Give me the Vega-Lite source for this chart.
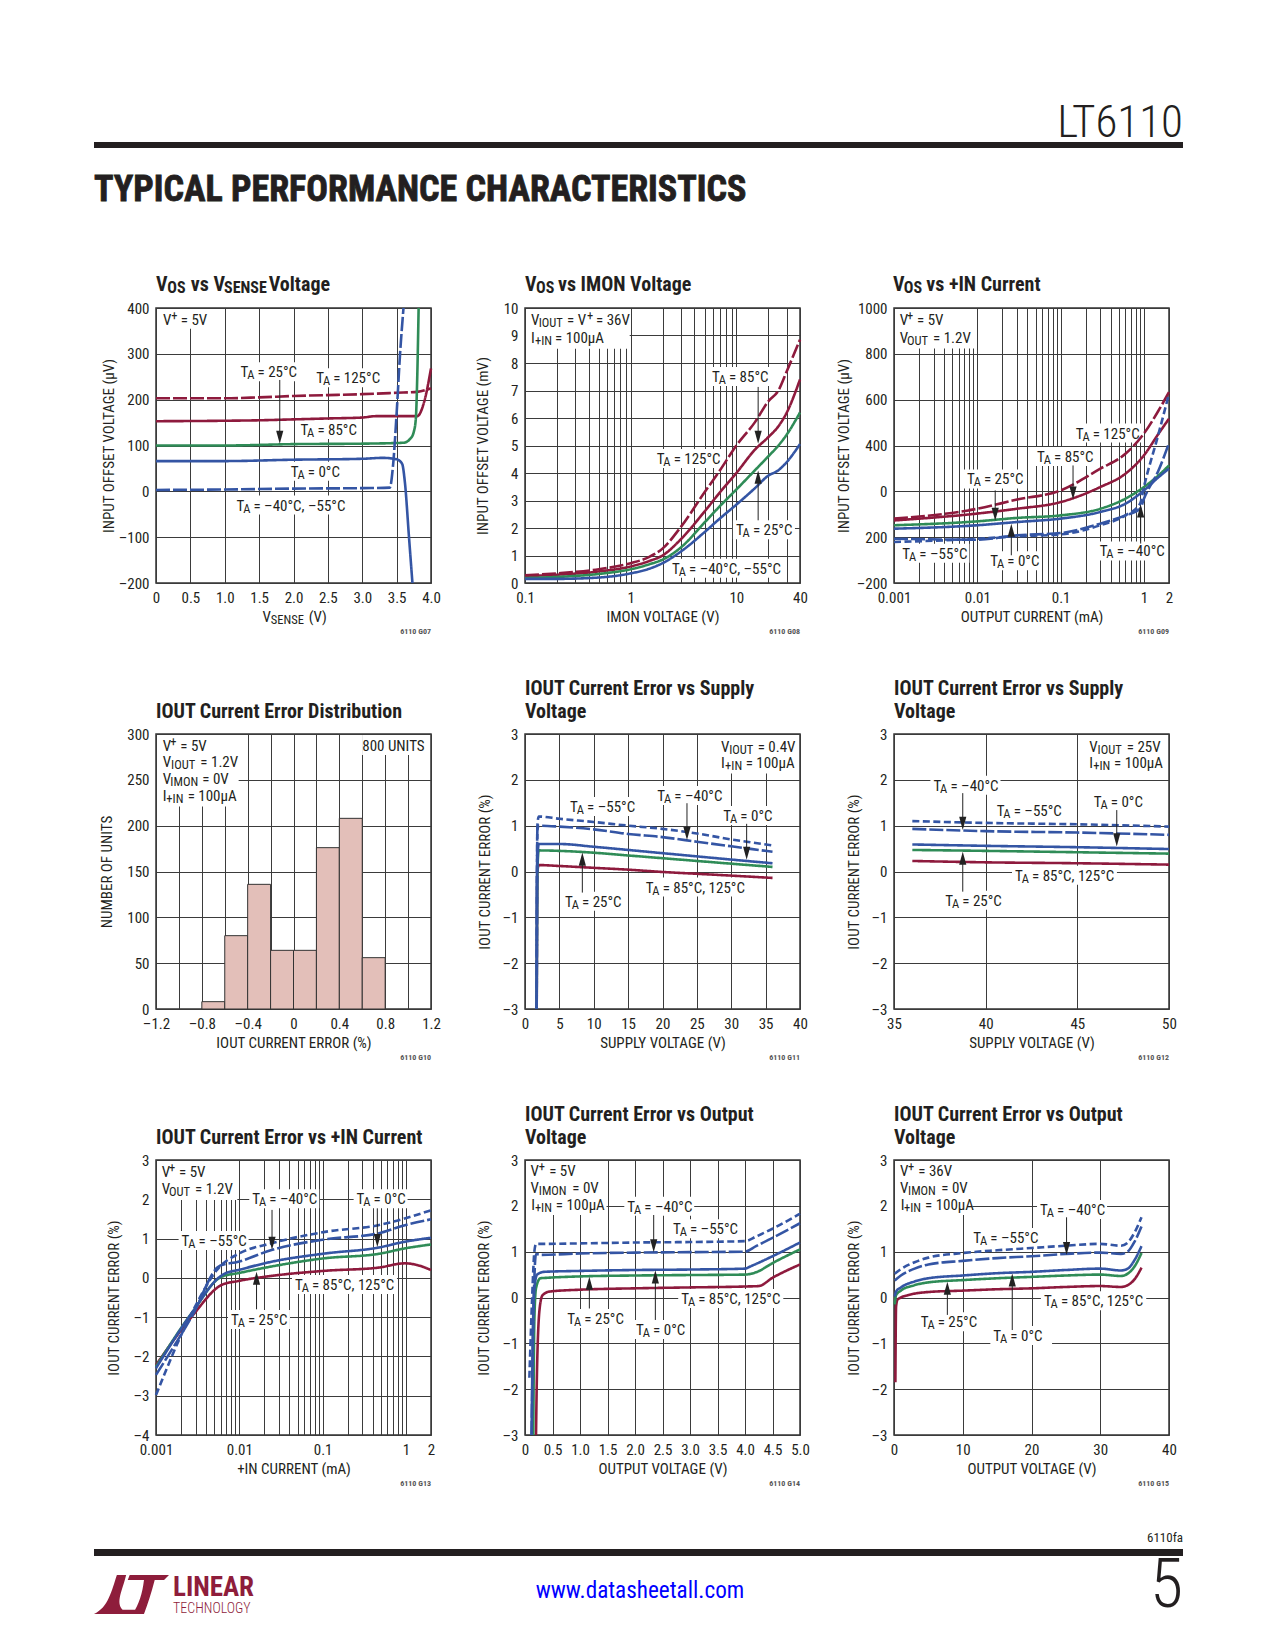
{"$schema":"https://vega.github.io/schema/vega-lite/v6.json","padding":0,"background":"white","bounds":"flush","align":"each","columns":4,"spacing":{"row":151,"column":94},
"config":{"view":{"stroke":null},"font":"Roboto Condensed, Open Sans Condensed, Noto Sans Condensed, Liberation Sans",
"axis":{"domain":false,"ticks":false,"grid":true,"gridColor":"#3b3b3b","gridWidth":1,"labelFont":"Roboto Condensed, Open Sans Condensed, Noto Sans Condensed, Liberation Sans","labelFontSize":15,"labelColor":"#231f20","labelPadding":7,"labelFlush":false,"titleFont":"Roboto Condensed, Open Sans Condensed, Noto Sans Condensed, Liberation Sans","titleFontSize":15,"titleFontWeight":"normal","titleColor":"#231f20","labelOverlap":false,"labelBound":false,"titleBaseline":"middle"},
"text":{"font":"Roboto Condensed, Open Sans Condensed, Noto Sans Condensed, Liberation Sans","fontSize":15,"align":"left","baseline":"middle","color":"#231f20"},
"title":{"font":"Roboto Condensed, Open Sans Condensed, Noto Sans Condensed, Liberation Sans","fontWeight":"bold","fontSize":20,"color":"#231f20","anchor":"start","frame":"group","offset":5.5,"lineHeight":23}},
"datasets":{
"p1t":[{"x":1.23,"x1":2.06,"y":260,"t":"= 25°C"},{"x":2.33,"x1":3.26,"y":247,"t":"= 125°C"},{"x":2.1,"x1":2.93,"y":134,"t":"= 85°C"},{"x":1.96,"x1":2.67,"y":43,"t":"= 0°C"},{"x":1.17,"x1":2.73,"y":-31,"t":"= –40°C, –55°C"}],
"p1p":[{"x":0.1,"y":373,"t":"V","k":"n"},{"x":0.22,"y":373,"t":"+","k":"p"},{"x":0.36,"y":373,"t":"= 5V","k":"n"},{"x":0,"y":450,"t":"V","k":"h"},{"x":0.165,"y":450,"t":"OS","k":"i"},{"x":0.505,"y":450,"t":"vs V","k":"h"},{"x":0.99,"y":450,"t":"SENSE","k":"i"},{"x":1.64,"y":450,"t":"Voltage","k":"h"},{"x":1.55,"y":-274,"t":"V","k":"n"},{"x":1.67,"y":-274,"t":"SENSE","k":"b"},{"x":2.22,"y":-274,"t":"(V)","k":"n"},{"x":4,"y":-200,"t":"6110 G07","k":"g"}],
"p1a":[{"x":1.8,"y":118,"y1":243,"d":"d"}],
"p1m":[{"x":0,"x1":0.9,"y":400,"y1":355}],
"p1l":[{"s":"125","x":0,"y":203},{"s":"125","x":1,"y":203},{"s":"125","x":1.5,"y":205},{"s":"125","x":2,"y":208},{"s":"125","x":2.5,"y":210},{"s":"125","x":3,"y":212},{"s":"125","x":3.5,"y":215},{"s":"125","x":3.8,"y":217},{"s":"125","x":4,"y":225},
{"s":"85","x":0,"y":153},{"s":"85","x":1,"y":154},{"s":"85","x":1.5,"y":155},{"s":"85","x":2,"y":157},{"s":"85","x":2.5,"y":159},{"s":"85","x":3,"y":161},{"s":"85","x":3.2,"y":164},{"s":"85","x":3.8,"y":164},{"s":"85","x":3.9,"y":195},{"s":"85","x":4,"y":268},
{"s":"25","x":0,"y":100},{"s":"25","x":1,"y":100},{"s":"25","x":2,"y":103},{"s":"25","x":3,"y":104},{"s":"25","x":3.6,"y":106},{"s":"25","x":3.7,"y":115},{"s":"25","x":3.75,"y":130},{"s":"25","x":3.78,"y":160},{"s":"25","x":3.8,"y":250},{"s":"25","x":3.82,"y":400},
{"s":"0","x":0,"y":66},{"s":"0","x":1,"y":66},{"s":"0","x":2,"y":69},{"s":"0","x":3,"y":71},{"s":"0","x":3.3,"y":73},{"s":"0","x":3.5,"y":70},{"s":"0","x":3.58,"y":60},{"s":"0","x":3.62,"y":20},{"s":"0","x":3.68,"y":-100},{"s":"0","x":3.73,"y":-200},
{"s":"-40","x":0,"y":3},{"s":"-40","x":1,"y":4},{"s":"-40","x":2,"y":6},{"s":"-40","x":3,"y":7},{"s":"-40","x":3.4,"y":8},{"s":"-40","x":3.45,"y":60},{"s":"-40","x":3.5,"y":170},{"s":"-40","x":3.55,"y":300},{"s":"-40","x":3.6,"y":400}],
"p2t":[{"x":5.88,"x1":20.3,"y":7.49,"t":"= 85°C"},{"x":1.76,"x1":7.1,"y":4.51,"t":"= 125°C"},{"x":9.9,"x1":34.3,"y":1.92,"t":"= 25°C"},{"x":2.46,"x1":25.3,"y":0.52,"t":"= –40°C, –55°C"}],
"p2p":[{"x":0.114,"y":9.55,"t":"V","k":"n"},{"x":0.1348,"y":9.55,"t":"IOUT","k":"b"},{"x":0.2498,"y":9.55,"t":"= V","k":"n"},{"x":0.386,"y":9.55,"t":"+","k":"p"},{"x":0.47,"y":9.55,"t":"= 36V","k":"n"},{"x":0.114,"y":8.92,"t":"I","k":"n"},{"x":0.1243,"y":8.92,"t":"+IN","k":"b"},{"x":0.1923,"y":8.92,"t":"= 100µA","k":"n"},{"x":0.1,"y":10.84,"t":"V","k":"h"},{"x":0.127,"y":10.84,"t":"OS","k":"i"},{"x":0.205,"y":10.84,"t":"vs IMON Voltage","k":"h"},{"x":40,"y":0,"t":"6110 G08","k":"g"}],
"p2a":[{"x":16.07,"y":5.3,"y1":7.13,"d":"d"},{"x":16.07,"y":3.85,"y1":2.28,"d":"u"}],
"p2m":[{"x":0.1,"x1":1,"y":10,"y1":8.52}],
"p2l":[{"s":"125","x":0.1,"y":0.28},{"s":"125","x":0.2,"y":0.35},{"s":"125","x":0.5,"y":0.5},{"s":"125","x":1,"y":0.72},{"s":"125","x":1.5,"y":0.95},{"s":"125","x":2,"y":1.25},{"s":"125","x":3,"y":2.05},{"s":"125","x":5,"y":3.3},{"s":"125","x":7,"y":4.1},{"s":"125","x":10,"y":5},{"s":"125","x":15,"y":5.85},{"s":"125","x":20,"y":6.6},{"s":"125","x":25,"y":7},{"s":"125","x":30,"y":7.7},{"s":"125","x":40,"y":8.85},
{"s":"85","x":0.1,"y":0.25},{"s":"85","x":0.2,"y":0.3},{"s":"85","x":0.5,"y":0.42},{"s":"85","x":1,"y":0.6},{"s":"85","x":1.5,"y":0.8},{"s":"85","x":2,"y":1},{"s":"85","x":3,"y":1.6},{"s":"85","x":5,"y":2.6},{"s":"85","x":7,"y":3.3},{"s":"85","x":10,"y":4},{"s":"85","x":15,"y":4.85},{"s":"85","x":20,"y":5.3},{"s":"85","x":25,"y":5.7},{"s":"85","x":30,"y":6.2},{"s":"85","x":40,"y":7.4},
{"s":"25","x":0.1,"y":0.18},{"s":"25","x":0.2,"y":0.22},{"s":"25","x":0.5,"y":0.33},{"s":"25","x":1,"y":0.5},{"s":"25","x":1.5,"y":0.68},{"s":"25","x":2,"y":0.85},{"s":"25","x":3,"y":1.3},{"s":"25","x":5,"y":2.2},{"s":"25","x":7,"y":2.8},{"s":"25","x":10,"y":3.4},{"s":"25","x":15,"y":4.1},{"s":"25","x":20,"y":4.6},{"s":"25","x":25,"y":5},{"s":"25","x":30,"y":5.4},{"s":"25","x":40,"y":6.2},
{"s":"0","x":0.1,"y":0.15},{"s":"0","x":0.2,"y":0.15},{"s":"0","x":0.5,"y":0.2},{"s":"0","x":1,"y":0.35},{"s":"0","x":1.5,"y":0.52},{"s":"0","x":2,"y":0.72},{"s":"0","x":3,"y":1.15},{"s":"0","x":5,"y":1.85},{"s":"0","x":7,"y":2.35},{"s":"0","x":10,"y":2.85},{"s":"0","x":15,"y":3.45},{"s":"0","x":20,"y":3.9},{"s":"0","x":25,"y":4.1},{"s":"0","x":30,"y":4.4},{"s":"0","x":40,"y":5.05}],
"p3t":[{"x":0.1518,"x1":0.891,"y":452,"t":"= 125°C"},{"x":0.0521,"x1":0.2516,"y":350,"t":"= 85°C"},{"x":0.00752,"x1":0.0363,"y":252,"t":"= 25°C"},{"x":0.00126,"x1":0.0076,"y":-72,"t":"= –55°C"},{"x":0.0143,"x1":0.0553,"y":-105,"t":"= 0°C"},{"x":0.294,"x1":1.77,"y":-62,"t":"= –40°C"}],
"p3p":[{"x":0.00117,"y":946,"t":"V","k":"n"},{"x":0.00143,"y":946,"t":"+","k":"p"},{"x":0.00189,"y":946,"t":"= 5V","k":"n"},{"x":0.00117,"y":870,"t":"V","k":"n"},{"x":0.00143,"y":870,"t":"OUT","k":"b"},{"x":0.00294,"y":870,"t":"= 1.2V","k":"n"},{"x":0.00097,"y":1100,"t":"V","k":"h"},{"x":0.00131,"y":1100,"t":"OS","k":"i"},{"x":0.00244,"y":1100,"t":"vs +IN Current","k":"h"},{"x":2,"y":-200,"t":"6110 G09","k":"g"}],
"p3a":[{"x":0.141,"y":193,"y1":313,"d":"d"},{"x":0.0164,"y":100,"y1":204,"d":"d"},{"x":0.0256,"y":30,"y1":-79,"d":"u"},{"x":0.914,"y":114,"y1":-28,"d":"u"}],
"p3m":[{"x":0.001,"x1":0.0097,"y":1000,"y1":823}],
"p3l":[{"s":"125","x":0.001,"y":81},{"s":"125","x":0.01,"y":124},{"s":"125","x":0.03,"y":164},{"s":"125","x":0.1,"y":204},{"s":"125","x":0.3,"y":299},{"s":"125","x":0.6,"y":364},{"s":"125","x":1,"y":452},{"s":"125","x":1.5,"y":553},{"s":"125","x":2,"y":633},
{"s":"85","x":0.001,"y":73},{"s":"85","x":0.01,"y":103},{"s":"85","x":0.03,"y":124},{"s":"85","x":0.1,"y":153},{"s":"85","x":0.3,"y":219},{"s":"85","x":0.6,"y":277},{"s":"85","x":1,"y":357},{"s":"85","x":1.5,"y":452},{"s":"85","x":2,"y":517},
{"s":"25","x":0.001,"y":52},{"s":"25","x":0.01,"y":69},{"s":"25","x":0.03,"y":84},{"s":"25","x":0.1,"y":95},{"s":"25","x":0.3,"y":124},{"s":"25","x":0.6,"y":168},{"s":"25","x":1,"y":219},{"s":"25","x":1.5,"y":270},{"s":"25","x":2,"y":313},
{"s":"0","x":0.001,"y":37},{"s":"0","x":0.01,"y":52},{"s":"0","x":0.03,"y":66},{"s":"0","x":0.1,"y":81},{"s":"0","x":0.3,"y":110},{"s":"0","x":0.6,"y":146},{"s":"0","x":1,"y":204},{"s":"0","x":1.5,"y":262},{"s":"0","x":2,"y":299},
{"s":"-40","x":0.001,"y":-7},{"s":"-40","x":0.01,"y":-11},{"s":"-40","x":0.03,"y":8},{"s":"-40","x":0.1,"y":18},{"s":"-40","x":0.3,"y":59},{"s":"-40","x":0.6,"y":95},{"s":"-40","x":0.9,"y":124},{"s":"-40","x":1,"y":168},{"s":"-40","x":1.5,"y":292},{"s":"-40","x":2,"y":411},
{"s":"-55","x":0.001,"y":-21},{"s":"-55","x":0.01,"y":-7},{"s":"-55","x":0.03,"y":4},{"s":"-55","x":0.1,"y":12},{"s":"-55","x":0.3,"y":52},{"s":"-55","x":0.6,"y":95},{"s":"-55","x":0.9,"y":146},{"s":"-55","x":1,"y":219},{"s":"-55","x":1.5,"y":452},{"s":"-55","x":2,"y":626}],
"p4b":[{"x":-0.8,"x1":-0.6,"y":8,"y0":0},{"x":-0.6,"x1":-0.4,"y":80,"y0":0},{"x":-0.4,"x1":-0.2,"y":136,"y0":0},{"x":-0.2,"x1":0,"y":64,"y0":0},{"x":0,"x1":0.2,"y":64,"y0":0},{"x":0.2,"x1":0.4,"y":176,"y0":0},{"x":0.4,"x1":0.6,"y":208,"y0":0},{"x":0.6,"x1":0.8,"y":56,"y0":0}],
"p4p":[{"x":-1.142,"y":287,"t":"V","k":"n"},{"x":-1.075,"y":287,"t":"+","k":"p"},{"x":-0.988,"y":287,"t":"= 5V","k":"n"},{"x":-1.142,"y":269,"t":"V","k":"n"},{"x":-1.069,"y":269,"t":"IOUT","k":"b"},{"x":-0.813,"y":269,"t":"= 1.2V","k":"n"},{"x":-1.142,"y":251,"t":"V","k":"n"},{"x":-1.075,"y":251,"t":"IMON","k":"b"},{"x":-0.796,"y":251,"t":"= 0V","k":"n"},{"x":-1.142,"y":232,"t":"I","k":"n"},{"x":-1.11,"y":232,"t":"+IN","k":"b"},{"x":-0.924,"y":232,"t":"= 100µA","k":"n"},{"x":0.6,"y":287,"t":"800 UNITS","k":"n"},{"x":1.2,"y":0,"t":"6110 G10","k":"g"}],
"p4m":[{"x":-1.2,"x1":-0.47,"y":300,"y1":221},{"x":0.59,"x1":1.2,"y":300,"y1":277}],
"p5t":[{"x":6.55,"x1":16,"y":1.41,"t":"= –55°C"},{"x":19.25,"x1":28.7,"y":1.65,"t":"= –40°C"},{"x":28.85,"x1":36,"y":1.21,"t":"= 0°C"},{"x":5.82,"x1":14.1,"y":-0.66,"t":"= 25°C"},{"x":17.55,"x1":32.1,"y":-0.35,"t":"= 85°C, 125°C"}],
"p5p":[{"x":28.5,"y":2.71,"t":"V","k":"n"},{"x":29.7,"y":2.71,"t":"IOUT","k":"b"},{"x":33.85,"y":2.71,"t":"= 0.4V","k":"n"},{"x":28.5,"y":2.36,"t":"I","k":"n"},{"x":29.1,"y":2.36,"t":"+IN","k":"b"},{"x":32.1,"y":2.36,"t":"= 100µA","k":"n"},{"x":40,"y":-3,"t":"6110 G11","k":"g"}],
"p5a":[{"x":23.56,"y":0.83,"y1":1.49,"d":"d"},{"x":32.24,"y":0.4,"y1":1.04,"d":"d"},{"x":8.34,"y":0.27,"y1":-0.46,"d":"u"}],
"p5m":[{"x":27.5,"x1":40,"y":3,"y1":2.14}],
"p5l":[{"s":"85","x":1.7,"y":-3},{"s":"85","x":1.8,"y":0},{"s":"85","x":2,"y":0.14},{"s":"85","x":5,"y":0.12},{"s":"85","x":10,"y":0.08},{"s":"85","x":15,"y":0.04},{"s":"85","x":20,"y":-0.01},{"s":"85","x":25,"y":-0.05},{"s":"85","x":30,"y":-0.09},{"s":"85","x":36,"y":-0.14},
{"s":"25","x":1.7,"y":-3},{"s":"25","x":1.8,"y":0},{"s":"25","x":2,"y":0.46},{"s":"25","x":5,"y":0.45},{"s":"25","x":10,"y":0.41},{"s":"25","x":15,"y":0.35},{"s":"25","x":20,"y":0.29},{"s":"25","x":25,"y":0.23},{"s":"25","x":30,"y":0.17},{"s":"25","x":36,"y":0.1},
{"s":"0","x":1.7,"y":-3},{"s":"0","x":1.75,"y":0},{"s":"0","x":2,"y":0.6},{"s":"0","x":5,"y":0.6},{"s":"0","x":10,"y":0.54},{"s":"0","x":15,"y":0.47},{"s":"0","x":20,"y":0.4},{"s":"0","x":25,"y":0.33},{"s":"0","x":30,"y":0.26},{"s":"0","x":36,"y":0.18},
{"s":"-40","x":1.7,"y":-3},{"s":"-40","x":1.8,"y":0.9},{"s":"-40","x":2,"y":1},{"s":"-40","x":5,"y":0.98},{"s":"-40","x":10,"y":0.92},{"s":"-40","x":15,"y":0.82},{"s":"-40","x":20,"y":0.75},{"s":"-40","x":25,"y":0.65},{"s":"-40","x":30,"y":0.55},{"s":"-40","x":36,"y":0.43},
{"s":"-55","x":1.7,"y":-3},{"s":"-55","x":1.75,"y":0},{"s":"-55","x":1.8,"y":1},{"s":"-55","x":2,"y":1.2},{"s":"-55","x":5,"y":1.15},{"s":"-55","x":10,"y":1.08},{"s":"-55","x":15,"y":1},{"s":"-55","x":20,"y":0.93},{"s":"-55","x":25,"y":0.83},{"s":"-55","x":30,"y":0.7},{"s":"-55","x":36,"y":0.57}],
"p6t":[{"x":37.15,"x1":40.7,"y":1.87,"t":"= –40°C"},{"x":40.6,"x1":44.15,"y":1.32,"t":"= –55°C"},{"x":45.9,"x1":48.57,"y":1.52,"t":"= 0°C"},{"x":37.8,"x1":40.9,"y":-0.64,"t":"= 25°C"},{"x":41.6,"x1":47.05,"y":-0.09,"t":"= 85°C, 125°C"}],
"p6p":[{"x":45.65,"y":2.71,"t":"V","k":"n"},{"x":46.1,"y":2.71,"t":"IOUT","k":"b"},{"x":47.7,"y":2.71,"t":"= 25V","k":"n"},{"x":45.65,"y":2.36,"t":"I","k":"n"},{"x":45.87,"y":2.36,"t":"+IN","k":"b"},{"x":47,"y":2.36,"t":"= 100µA","k":"n"},{"x":50,"y":-3,"t":"6110 G12","k":"g"}],
"p6a":[{"x":38.75,"y":1.05,"y1":1.71,"d":"d"},{"x":47.15,"y":0.69,"y1":1.34,"d":"d"},{"x":38.75,"y":0.29,"y1":-0.44,"d":"u"}],
"p6m":[{"x":45.3,"x1":50,"y":3,"y1":2.14}],
"p6l":[{"s":"85","x":36,"y":0.23},{"s":"85","x":40,"y":0.2},{"s":"85","x":45,"y":0.18},{"s":"85","x":50,"y":0.15},{"s":"25","x":36,"y":0.47},{"s":"25","x":40,"y":0.45},{"s":"25","x":45,"y":0.42},{"s":"25","x":50,"y":0.39},{"s":"0","x":36,"y":0.59},{"s":"0","x":40,"y":0.56},{"s":"0","x":45,"y":0.53},{"s":"0","x":50,"y":0.49},{"s":"-40","x":36,"y":0.93},{"s":"-40","x":40,"y":0.88},{"s":"-40","x":45,"y":0.85},{"s":"-40","x":50,"y":0.8},{"s":"-55","x":36,"y":1.1},{"s":"-55","x":40,"y":1.06},{"s":"-55","x":45,"y":1.03},{"s":"-55","x":50,"y":0.98}],
"p7t":[{"x":0.0143,"x1":0.0862,"y":2,"t":"= –40°C"},{"x":0.256,"x1":0.99,"y":2,"t":"= 0°C"},{"x":0.00203,"x1":0.01224,"y":0.94,"t":"= –55°C"},{"x":0.0466,"x1":0.7386,"y":-0.18,"t":"= 85°C, 125°C"},{"x":0.00794,"x1":0.03835,"y":-1.07,"t":"= 25°C"}],
"p7p":[{"x":0.00117,"y":2.69,"t":"V","k":"n"},{"x":0.00143,"y":2.69,"t":"+","k":"p"},{"x":0.00189,"y":2.69,"t":"= 5V","k":"n"},{"x":0.00117,"y":2.25,"t":"V","k":"n"},{"x":0.00143,"y":2.25,"t":"OUT","k":"b"},{"x":0.00294,"y":2.25,"t":"= 1.2V","k":"n"},{"x":2,"y":-4,"t":"6110 G13","k":"g"}],
"p7a":[{"x":0.0247,"y":0.88,"y1":1.73,"d":"d"},{"x":0.4536,"y":0.95,"y1":1.77,"d":"d"},{"x":0.0161,"y":-0.01,"y1":-0.8,"d":"u"}],
"p7m":[{"x":0.001,"x1":0.00973,"y":3,"y1":1.98}],
"p7l":[{"s":"85","x":0.001,"y":-2.22},{"s":"85","x":0.00268,"y":-0.99},{"s":"85","x":0.00614,"y":-0.18},{"s":"85","x":0.00973,"y":-0.08},{"s":"85","x":0.0244,"y":0.05},{"s":"85","x":0.1067,"y":0.18},{"s":"85","x":0.4656,"y":0.26},{"s":"85","x":0.9727,"y":0.37},{"s":"85","x":1.343,"y":0.33},{"s":"85","x":2,"y":0.2},
{"s":"25","x":0.001,"y":-2.26},{"s":"25","x":0.00268,"y":-0.9},{"s":"25","x":0.00614,"y":0.03},{"s":"25","x":0.00973,"y":0.12},{"s":"25","x":0.0244,"y":0.29},{"s":"25","x":0.1067,"y":0.5},{"s":"25","x":0.4656,"y":0.61},{"s":"25","x":0.9727,"y":0.75},{"s":"25","x":2,"y":0.85},
{"s":"0","x":0.001,"y":-2.3},{"s":"0","x":0.00268,"y":-0.9},{"s":"0","x":0.00586,"y":0.03},{"s":"0","x":0.00673,"y":0.11},{"s":"0","x":0.00973,"y":0.2},{"s":"0","x":0.0244,"y":0.41},{"s":"0","x":0.1067,"y":0.62},{"s":"0","x":0.4656,"y":0.77},{"s":"0","x":0.9727,"y":0.92},{"s":"0","x":2,"y":1.02},
{"s":"-40","x":0.001,"y":-2.47},{"s":"-40","x":0.00268,"y":-0.99},{"s":"-40","x":0.00586,"y":0.31},{"s":"-40","x":0.00973,"y":0.41},{"s":"-40","x":0.0244,"y":0.71},{"s":"-40","x":0.1067,"y":0.98},{"s":"-40","x":0.4656,"y":1.13},{"s":"-40","x":0.9727,"y":1.34},{"s":"-40","x":2,"y":1.49},
{"s":"-55","x":0.001,"y":-2.98},{"s":"-55","x":0.00268,"y":-0.9},{"s":"-55","x":0.00586,"y":0.29},{"s":"-55","x":0.00973,"y":0.61},{"s":"-55","x":0.0244,"y":0.88},{"s":"-55","x":0.1067,"y":1.17},{"s":"-55","x":0.4656,"y":1.34},{"s":"-55","x":2,"y":1.72}],
"p8t":[{"x":1.86,"x1":3.04,"y":1.98,"t":"= –40°C"},{"x":2.69,"x1":3.87,"y":1.49,"t":"= –55°C"},{"x":2.84,"x1":4.66,"y":-0.03,"t":"= 85°C, 125°C"},{"x":0.77,"x1":1.81,"y":-0.47,"t":"= 25°C"},{"x":2.02,"x1":2.91,"y":-0.71,"t":"= 0°C"}],
"p8p":[{"x":0.1,"y":2.75,"t":"V","k":"n"},{"x":0.25,"y":2.75,"t":"+","k":"p"},{"x":0.44,"y":2.75,"t":"= 5V","k":"n"},{"x":0.1,"y":2.38,"t":"V","k":"n"},{"x":0.25,"y":2.38,"t":"IMON","k":"b"},{"x":0.86,"y":2.38,"t":"= 0V","k":"n"},{"x":0.115,"y":2.01,"t":"I","k":"n"},{"x":0.18,"y":2.01,"t":"+IN","k":"b"},{"x":0.56,"y":2.01,"t":"= 100µA","k":"n"},{"x":5,"y":-3,"t":"6110 G14","k":"g"}],
"p8a":[{"x":2.34,"y":1.13,"y1":1.8,"d":"d"},{"x":1.17,"y":0.31,"y1":-0.24,"d":"u"},{"x":2.37,"y":0.45,"y1":-0.49,"d":"u"}],
"p8m":[{"x":0,"x1":1.5,"y":3,"y1":1.8}],
"p8l":[{"s":"85","x":0.2,"y":-3},{"s":"85","x":0.22,"y":-1.5},{"s":"85","x":0.27,"y":-0.2},{"s":"85","x":0.32,"y":0.05},{"s":"85","x":0.45,"y":0.13},{"s":"85","x":1,"y":0.17},{"s":"85","x":2,"y":0.2},{"s":"85","x":3,"y":0.22},{"s":"85","x":4,"y":0.24},{"s":"85","x":4.25,"y":0.25},{"s":"85","x":4.5,"y":0.43},{"s":"85","x":5,"y":0.72},
{"s":"25","x":0.15,"y":-3},{"s":"25","x":0.17,"y":-0.5},{"s":"25","x":0.2,"y":0.2},{"s":"25","x":0.28,"y":0.42},{"s":"25","x":0.4,"y":0.43},{"s":"25","x":1,"y":0.46},{"s":"25","x":2,"y":0.48},{"s":"25","x":3,"y":0.49},{"s":"25","x":4,"y":0.5},{"s":"25","x":4.2,"y":0.55},{"s":"25","x":4.5,"y":0.75},{"s":"25","x":5,"y":1.05},
{"s":"0","x":0.12,"y":-3},{"s":"0","x":0.14,"y":-1},{"s":"0","x":0.17,"y":0.2},{"s":"0","x":0.22,"y":0.5},{"s":"0","x":0.35,"y":0.56},{"s":"0","x":1,"y":0.58},{"s":"0","x":2,"y":0.6},{"s":"0","x":3,"y":0.61},{"s":"0","x":4,"y":0.63},{"s":"0","x":4.1,"y":0.68},{"s":"0","x":4.5,"y":0.9},{"s":"0","x":5,"y":1.2},
{"s":"-40","x":0.12,"y":-3},{"s":"-40","x":0.16,"y":0},{"s":"-40","x":0.2,"y":0.95},{"s":"-40","x":0.3,"y":0.93},{"s":"-40","x":1,"y":0.96},{"s":"-40","x":2,"y":0.98},{"s":"-40","x":3,"y":0.99},{"s":"-40","x":4,"y":1},{"s":"-40","x":4.2,"y":1.12},{"s":"-40","x":4.5,"y":1.3},{"s":"-40","x":5,"y":1.62},
{"s":"-55","x":0.08,"y":-1.75},{"s":"-55","x":0.13,"y":0},{"s":"-55","x":0.17,"y":1},{"s":"-55","x":0.2,"y":1.17},{"s":"-55","x":0.3,"y":1.17},{"s":"-55","x":1,"y":1.18},{"s":"-55","x":2,"y":1.2},{"s":"-55","x":3,"y":1.21},{"s":"-55","x":4,"y":1.23},{"s":"-55","x":4.2,"y":1.33},{"s":"-55","x":4.5,"y":1.5},{"s":"-55","x":5,"y":1.83}],
"p9t":[{"x":21.24,"x1":30.7,"y":1.91,"t":"= –40°C"},{"x":11.54,"x1":21,"y":1.3,"t":"= –55°C"},{"x":21.8,"x1":36.4,"y":-0.08,"t":"= 85°C, 125°C"},{"x":3.88,"x1":12.2,"y":-0.54,"t":"= 25°C"},{"x":14.45,"x1":22.7,"y":-0.84,"t":"= 0°C"}],
"p9p":[{"x":0.87,"y":2.75,"t":"V","k":"n"},{"x":2.04,"y":2.75,"t":"+","k":"p"},{"x":3.54,"y":2.75,"t":"= 36V","k":"n"},{"x":0.87,"y":2.38,"t":"V","k":"n"},{"x":2.04,"y":2.38,"t":"IMON","k":"b"},{"x":6.88,"y":2.38,"t":"= 0V","k":"n"},{"x":0.97,"y":2.01,"t":"I","k":"n"},{"x":1.45,"y":2.01,"t":"+IN","k":"b"},{"x":4.51,"y":2.01,"t":"= 100µA","k":"n"},{"x":40,"y":-3,"t":"6110 G15","k":"g"}],
"p9a":[{"x":25.1,"y":1.07,"y1":1.75,"d":"d"},{"x":7.76,"y":0.2,"y1":-0.38,"d":"u"},{"x":17.2,"y":0.38,"y1":-0.71,"d":"u"}],
"p9m":[{"x":0,"x1":11.54,"y":3,"y1":1.8}],
"p9l":[{"s":"85","x":0.2,"y":-1.85},{"s":"85","x":0.3,"y":-0.2},{"s":"85","x":0.5,"y":-0.05},{"s":"85","x":1,"y":0},{"s":"85","x":2,"y":0.05},{"s":"85","x":5,"y":0.12},{"s":"85","x":10,"y":0.15},{"s":"85","x":15,"y":0.18},{"s":"85","x":20,"y":0.2},{"s":"85","x":25,"y":0.23},{"s":"85","x":30,"y":0.25},{"s":"85","x":33,"y":0.23},{"s":"85","x":34,"y":0.27},{"s":"85","x":35,"y":0.4},{"s":"85","x":36,"y":0.65},
{"s":"25","x":0.1,"y":-0.15},{"s":"25","x":0.3,"y":0.05},{"s":"25","x":1,"y":0.15},{"s":"25","x":3,"y":0.27},{"s":"25","x":5,"y":0.33},{"s":"25","x":10,"y":0.38},{"s":"25","x":15,"y":0.42},{"s":"25","x":20,"y":0.45},{"s":"25","x":25,"y":0.48},{"s":"25","x":30,"y":0.5},{"s":"25","x":33,"y":0.47},{"s":"25","x":34,"y":0.52},{"s":"25","x":35,"y":0.68},{"s":"25","x":36,"y":0.97},
{"s":"0","x":0.1,"y":0.02},{"s":"0","x":0.3,"y":0.13},{"s":"0","x":1,"y":0.22},{"s":"0","x":3,"y":0.35},{"s":"0","x":5,"y":0.42},{"s":"0","x":10,"y":0.48},{"s":"0","x":15,"y":0.53},{"s":"0","x":20,"y":0.56},{"s":"0","x":25,"y":0.6},{"s":"0","x":30,"y":0.63},{"s":"0","x":33,"y":0.59},{"s":"0","x":34,"y":0.63},{"s":"0","x":35,"y":0.82},{"s":"0","x":36,"y":1.12},
{"s":"-40","x":0.1,"y":0.37},{"s":"-40","x":1,"y":0.48},{"s":"-40","x":3,"y":0.63},{"s":"-40","x":5,"y":0.72},{"s":"-40","x":10,"y":0.8},{"s":"-40","x":15,"y":0.86},{"s":"-40","x":20,"y":0.9},{"s":"-40","x":25,"y":0.95},{"s":"-40","x":30,"y":0.98},{"s":"-40","x":33,"y":0.95},{"s":"-40","x":34,"y":1},{"s":"-40","x":35,"y":1.22},{"s":"-40","x":36,"y":1.55},
{"s":"-55","x":0.1,"y":0.52},{"s":"-55","x":1,"y":0.62},{"s":"-55","x":3,"y":0.77},{"s":"-55","x":5,"y":0.87},{"s":"-55","x":10,"y":0.97},{"s":"-55","x":15,"y":1.03},{"s":"-55","x":20,"y":1.08},{"s":"-55","x":25,"y":1.13},{"s":"-55","x":30,"y":1.17},{"s":"-55","x":33,"y":1.13},{"s":"-55","x":34,"y":1.2},{"s":"-55","x":35,"y":1.42},{"s":"-55","x":36,"y":1.75}]
},
"concat":[
{"width":61,"height":156,"encoding":{"x":{"field":"x","type":"quantitative","scale":{"domain":[0,61],"nice":false},"axis":null},"y":{"field":"y","type":"quantitative","scale":{"domain":[156,0],"nice":false},"axis":null}},
"layer":[
{"data":{"values":[{"x":93,"x1":1182,"y":141,"y1":147}]},"mark":{"type":"rect","fill":"#231f20"},"encoding":{"x2":{"field":"x1"},"y2":{"field":"y1"}}},
{"data":{"values":[{"x":1182,"y":122,"t":"LT6110"}]},"mark":{"type":"text","align":"right","fontSize":45,"fontWeight":300},"encoding":{"text":{"field":"t"}}},
{"data":{"values":[{"x":93,"y":189,"t":"TYPICAL PERFORMANCE CHARACTERISTICS"}]},"mark":{"type":"text","fontWeight":"bold","fontSize":36,"stroke":"#231f20","strokeWidth":0.8},"encoding":{"text":{"field":"t"}}}
]},
{"data":{"values":[{}]},"width":1,"height":1,"mark":{"type":"rule","opacity":0},"encoding":{}},
{"data":{"values":[{}]},"width":1,"height":1,"mark":{"type":"rule","opacity":0},"encoding":{}},
{"data":{"values":[{}]},"width":1,"height":1,"mark":{"type":"rule","opacity":0},"encoding":{}},
{"data":{"values":[{}]},"width":61,"height":1,"mark":{"type":"rule","opacity":0},"encoding":{}},
{"width":275,"height":275,"view":{"stroke":"#333","strokeWidth":1.5},
"encoding":{"x":{"field":"x","type":"quantitative","scale":{"domain":[0,4],"nice":false},"axis":{"title":null,"values":[0,0.5,1,1.5,2,2.5,3,3.5,4],"labelExpr":"datum.value==0?'0':format(datum.value,'.1f')"}},"y":{"field":"y","type":"quantitative","scale":{"domain":[-200,400],"nice":false},"axis":{"title":"INPUT OFFSET VOLTAGE (µV)","titleX":-48,"values":[-200,-100,0,100,200,300,400],"labelExpr":"datum.value<0?'–'+abs(datum.value):datum.value+''"}}},
"layer":[
{"data":{"name":"p1m"},"mark":{"type":"rect","fill":"#fff","xOffset":1,"x2Offset":-1,"yOffset":1},"encoding":{"x2":{"field":"x1"},"y2":{"field":"y1"}}},
{"data":{"name":"p1t"},"mark":{"type":"rect","fill":"#fff","xOffset":-3,"x2Offset":2,"yOffset":-10,"y2Offset":9},"encoding":{"x2":{"field":"x1"},"y2":{"field":"y"}}},
{"data":{"name":"p1l"},"mark":{"type":"line","strokeWidth":2.6,"interpolate":"monotone"},"encoding":{"color":{"field":"s","type":"nominal","legend":null,"scale":{"domain":["125","85","25","0","-40","-55"],"range":["#8e1a3d","#8e1a3d","#2f8c57","#3455a4","#3455a4","#3455a4"]}},"strokeDash":{"field":"s","type":"nominal","legend":null,"scale":{"domain":["125","85","25","0","-40","-55"],"range":[[14,3],[1,0],[1,0],[1,0],[14,3],[7,3.5]]}}}},
{"data":{"name":"p1a"},"mark":{"type":"rule","color":"#222","strokeWidth":1},"encoding":{"y2":{"field":"y1"}}},
{"data":{"name":"p1a"},"mark":{"type":"point","filled":true,"color":"#222","opacity":1,"size":170},"encoding":{"shape":{"field":"d","type":"nominal","legend":null,"scale":{"domain":["u","d"],"range":["M0,-1L0.55,1L-0.55,1Z","M0,1L0.55,-1L-0.55,-1Z"]}}}},
{"data":{"name":"p1t"},"mark":{"type":"text","text":"T"}},
{"data":{"name":"p1t"},"mark":{"type":"text","text":"A","dx":6.7,"dy":3,"fontSize":12.5}},
{"data":{"name":"p1t"},"mark":{"type":"text","dx":17},"encoding":{"text":{"field":"t"}}},
{"data":{"name":"p1p"},"transform":[{"filter":"datum.k=='n'"}],"mark":{"type":"text"},"encoding":{"text":{"field":"t"}}},
{"data":{"name":"p1p"},"transform":[{"filter":"datum.k=='b'"}],"mark":{"type":"text","dy":3,"fontSize":12.5},"encoding":{"text":{"field":"t"}}},
{"data":{"name":"p1p"},"transform":[{"filter":"datum.k=='p'"}],"mark":{"type":"text","dy":-4,"fontSize":12.5},"encoding":{"text":{"field":"t"}}},
{"data":{"name":"p1p"},"transform":[{"filter":"datum.k=='h'"}],"mark":{"type":"text","fontWeight":"bold","fontSize":20},"encoding":{"text":{"field":"t"}}},
{"data":{"name":"p1p"},"transform":[{"filter":"datum.k=='i'"}],"mark":{"type":"text","fontWeight":"bold","fontSize":16,"dy":3},"encoding":{"text":{"field":"t"}}},
{"data":{"name":"p1p"},"transform":[{"filter":"datum.k=='g'"}],"mark":{"type":"text","fontWeight":"bold","fontSize":8,"align":"right","dy":49,"color":"#555"},"encoding":{"text":{"field":"t"}}}
]},
{"width":275,"height":275,"view":{"stroke":"#333","strokeWidth":1.5},
"encoding":{"x":{"field":"x","type":"quantitative","scale":{"type":"log","domain":[0.1,40],"nice":false},"axis":{"title":"IMON VOLTAGE (V)","titleY":33,"format":"~g","values":[0.1,0.2,0.3,0.4,0.5,0.6,0.7,0.8,0.9,1,2,3,4,5,6,7,8,9,10,20,30,40],"labelExpr":"indexof([0.1,1,10,40],datum.value)>=0?datum.label:''"}},"y":{"field":"y","type":"quantitative","scale":{"domain":[0,10],"nice":false},"axis":{"title":"INPUT OFFSET VOLTAGE (mV)","titleX":-43,"values":[0,1,2,3,4,5,6,7,8,9,10]}}},
"layer":[
{"data":{"name":"p2m"},"mark":{"type":"rect","fill":"#fff","xOffset":1,"x2Offset":-1,"yOffset":1},"encoding":{"x2":{"field":"x1"},"y2":{"field":"y1"}}},
{"data":{"name":"p2t"},"mark":{"type":"rect","fill":"#fff","xOffset":-3,"x2Offset":2,"yOffset":-10,"y2Offset":9},"encoding":{"x2":{"field":"x1"},"y2":{"field":"y"}}},
{"data":{"name":"p2l"},"mark":{"type":"line","strokeWidth":2.6,"interpolate":"monotone"},"encoding":{"color":{"field":"s","type":"nominal","legend":null,"scale":{"domain":["125","85","25","0","-40","-55"],"range":["#8e1a3d","#8e1a3d","#2f8c57","#3455a4","#3455a4","#3455a4"]}},"strokeDash":{"field":"s","type":"nominal","legend":null,"scale":{"domain":["125","85","25","0","-40","-55"],"range":[[14,3],[1,0],[1,0],[1,0],[14,3],[7,3.5]]}}}},
{"data":{"name":"p2a"},"mark":{"type":"rule","color":"#222","strokeWidth":1},"encoding":{"y2":{"field":"y1"}}},
{"data":{"name":"p2a"},"mark":{"type":"point","filled":true,"color":"#222","opacity":1,"size":170},"encoding":{"shape":{"field":"d","type":"nominal","legend":null,"scale":{"domain":["u","d"],"range":["M0,-1L0.55,1L-0.55,1Z","M0,1L0.55,-1L-0.55,-1Z"]}}}},
{"data":{"name":"p2t"},"mark":{"type":"text","text":"T"}},
{"data":{"name":"p2t"},"mark":{"type":"text","text":"A","dx":6.7,"dy":3,"fontSize":12.5}},
{"data":{"name":"p2t"},"mark":{"type":"text","dx":17},"encoding":{"text":{"field":"t"}}},
{"data":{"name":"p2p"},"transform":[{"filter":"datum.k=='n'"}],"mark":{"type":"text"},"encoding":{"text":{"field":"t"}}},
{"data":{"name":"p2p"},"transform":[{"filter":"datum.k=='b'"}],"mark":{"type":"text","dy":3,"fontSize":12.5},"encoding":{"text":{"field":"t"}}},
{"data":{"name":"p2p"},"transform":[{"filter":"datum.k=='p'"}],"mark":{"type":"text","dy":-4,"fontSize":12.5},"encoding":{"text":{"field":"t"}}},
{"data":{"name":"p2p"},"transform":[{"filter":"datum.k=='h'"}],"mark":{"type":"text","fontWeight":"bold","fontSize":20},"encoding":{"text":{"field":"t"}}},
{"data":{"name":"p2p"},"transform":[{"filter":"datum.k=='i'"}],"mark":{"type":"text","fontWeight":"bold","fontSize":16,"dy":3},"encoding":{"text":{"field":"t"}}},
{"data":{"name":"p2p"},"transform":[{"filter":"datum.k=='g'"}],"mark":{"type":"text","fontWeight":"bold","fontSize":8,"align":"right","dy":49,"color":"#555"},"encoding":{"text":{"field":"t"}}}
]},
{"width":275,"height":275,"view":{"stroke":"#333","strokeWidth":1.5},
"encoding":{"x":{"field":"x","type":"quantitative","scale":{"type":"log","domain":[0.001,2],"nice":false},"axis":{"title":"OUTPUT CURRENT (mA)","titleY":33,"format":"~g","values":[0.001,0.002,0.003,0.004,0.005,0.006,0.007,0.008,0.009,0.01,0.02,0.03,0.04,0.05,0.06,0.07,0.08,0.09,0.1,0.2,0.3,0.4,0.5,0.6,0.7,0.8,0.9,1,2],"labelExpr":"indexof([0.001,0.01,0.1,1,2],datum.value)>=0?datum.label:''"}},"y":{"field":"y","type":"quantitative","scale":{"domain":[-200,1000],"nice":false},"axis":{"title":"INPUT OFFSET VOLTAGE (µV)","titleX":-51,"values":[-200,0,200,400,600,800,1000],"labelExpr":"datum.value==200?'0':datum.value==0?'200':datum.value<0?'–'+abs(datum.value):datum.value+''"}}},
"layer":[
{"data":{"name":"p3m"},"mark":{"type":"rect","fill":"#fff","xOffset":1,"x2Offset":-1,"yOffset":1},"encoding":{"x2":{"field":"x1"},"y2":{"field":"y1"}}},
{"data":{"name":"p3t"},"mark":{"type":"rect","fill":"#fff","xOffset":-3,"x2Offset":2,"yOffset":-10,"y2Offset":9},"encoding":{"x2":{"field":"x1"},"y2":{"field":"y"}}},
{"data":{"name":"p3l"},"mark":{"type":"line","strokeWidth":2.6,"interpolate":"monotone"},"encoding":{"color":{"field":"s","type":"nominal","legend":null,"scale":{"domain":["125","85","25","0","-40","-55"],"range":["#8e1a3d","#8e1a3d","#2f8c57","#3455a4","#3455a4","#3455a4"]}},"strokeDash":{"field":"s","type":"nominal","legend":null,"scale":{"domain":["125","85","25","0","-40","-55"],"range":[[14,3],[1,0],[1,0],[1,0],[14,3],[7,3.5]]}}}},
{"data":{"name":"p3a"},"mark":{"type":"rule","color":"#222","strokeWidth":1},"encoding":{"y2":{"field":"y1"}}},
{"data":{"name":"p3a"},"mark":{"type":"point","filled":true,"color":"#222","opacity":1,"size":170},"encoding":{"shape":{"field":"d","type":"nominal","legend":null,"scale":{"domain":["u","d"],"range":["M0,-1L0.55,1L-0.55,1Z","M0,1L0.55,-1L-0.55,-1Z"]}}}},
{"data":{"name":"p3t"},"mark":{"type":"text","text":"T"}},
{"data":{"name":"p3t"},"mark":{"type":"text","text":"A","dx":6.7,"dy":3,"fontSize":12.5}},
{"data":{"name":"p3t"},"mark":{"type":"text","dx":17},"encoding":{"text":{"field":"t"}}},
{"data":{"name":"p3p"},"transform":[{"filter":"datum.k=='n'"}],"mark":{"type":"text"},"encoding":{"text":{"field":"t"}}},
{"data":{"name":"p3p"},"transform":[{"filter":"datum.k=='b'"}],"mark":{"type":"text","dy":3,"fontSize":12.5},"encoding":{"text":{"field":"t"}}},
{"data":{"name":"p3p"},"transform":[{"filter":"datum.k=='p'"}],"mark":{"type":"text","dy":-4,"fontSize":12.5},"encoding":{"text":{"field":"t"}}},
{"data":{"name":"p3p"},"transform":[{"filter":"datum.k=='h'"}],"mark":{"type":"text","fontWeight":"bold","fontSize":20},"encoding":{"text":{"field":"t"}}},
{"data":{"name":"p3p"},"transform":[{"filter":"datum.k=='i'"}],"mark":{"type":"text","fontWeight":"bold","fontSize":16,"dy":3},"encoding":{"text":{"field":"t"}}},
{"data":{"name":"p3p"},"transform":[{"filter":"datum.k=='g'"}],"mark":{"type":"text","fontWeight":"bold","fontSize":8,"align":"right","dy":49,"color":"#555"},"encoding":{"text":{"field":"t"}}}
]},
{"data":{"values":[{}]},"width":61,"height":1,"mark":{"type":"rule","opacity":0},"encoding":{}},
{"width":275,"height":275,"view":{"stroke":"#333","strokeWidth":1.5},"title":{"text":"IOUT Current Error Distribution"},
"encoding":{"x":{"field":"x","type":"quantitative","scale":{"domain":[-1.2,1.2],"nice":false},"axis":{"title":"IOUT CURRENT ERROR (%)","titleY":33,"values":[-1.2,-1,-0.8,-0.6,-0.4,-0.2,0,0.2,0.4,0.6,0.8,1,1.2],"labelExpr":"datum.value==0?'0':indexof([-1.2,-0.8,-0.4,0.4,0.8,1.2],datum.value)>=0?(datum.value<0?'–':'')+format(abs(datum.value),'.1f'):''"}},"y":{"field":"y","type":"quantitative","scale":{"domain":[0,300],"nice":false},"axis":{"title":"NUMBER OF UNITS","titleX":-50,"values":[0,50,100,150,200,250,300]}}},
"layer":[
{"data":{"name":"p4m"},"mark":{"type":"rect","fill":"#fff","xOffset":1,"x2Offset":-1,"yOffset":1},"encoding":{"x2":{"field":"x1"},"y2":{"field":"y1"}}},
{"data":{"name":"p4b"},"mark":{"type":"rect","fill":"#e3bfb9","stroke":"#333","strokeWidth":1},"encoding":{"x2":{"field":"x1"},"y2":{"field":"y0"}}},
{"data":{"name":"p4p"},"transform":[{"filter":"datum.k=='n'"}],"mark":{"type":"text"},"encoding":{"text":{"field":"t"}}},
{"data":{"name":"p4p"},"transform":[{"filter":"datum.k=='b'"}],"mark":{"type":"text","dy":3,"fontSize":12.5},"encoding":{"text":{"field":"t"}}},
{"data":{"name":"p4p"},"transform":[{"filter":"datum.k=='p'"}],"mark":{"type":"text","dy":-4,"fontSize":12.5},"encoding":{"text":{"field":"t"}}},
{"data":{"name":"p4p"},"transform":[{"filter":"datum.k=='g'"}],"mark":{"type":"text","fontWeight":"bold","fontSize":8,"align":"right","dy":49,"color":"#555"},"encoding":{"text":{"field":"t"}}}
]},
{"width":275,"height":275,"view":{"stroke":"#333","strokeWidth":1.5},"title":{"text":["IOUT Current Error vs Supply","Voltage"]},
"encoding":{"x":{"field":"x","type":"quantitative","scale":{"domain":[0,40],"nice":false},"axis":{"title":"SUPPLY VOLTAGE (V)","titleY":33,"values":[0,5,10,15,20,25,30,35,40]}},"y":{"field":"y","type":"quantitative","scale":{"domain":[-3,3],"nice":false},"axis":{"title":"IOUT CURRENT ERROR (%)","titleX":-41,"values":[-3,-2,-1,0,1,2,3],"labelExpr":"datum.value<0?'–'+abs(datum.value):datum.value+''"}}},
"layer":[
{"data":{"name":"p5m"},"mark":{"type":"rect","fill":"#fff","xOffset":1,"x2Offset":-1,"yOffset":1},"encoding":{"x2":{"field":"x1"},"y2":{"field":"y1"}}},
{"data":{"name":"p5t"},"mark":{"type":"rect","fill":"#fff","xOffset":-3,"x2Offset":2,"yOffset":-10,"y2Offset":9},"encoding":{"x2":{"field":"x1"},"y2":{"field":"y"}}},
{"data":{"name":"p5l"},"mark":{"type":"line","strokeWidth":2.6,"interpolate":"monotone"},"encoding":{"color":{"field":"s","type":"nominal","legend":null,"scale":{"domain":["125","85","25","0","-40","-55"],"range":["#8e1a3d","#8e1a3d","#2f8c57","#3455a4","#3455a4","#3455a4"]}},"strokeDash":{"field":"s","type":"nominal","legend":null,"scale":{"domain":["125","85","25","0","-40","-55"],"range":[[14,3],[1,0],[1,0],[1,0],[14,3],[7,3.5]]}}}},
{"data":{"name":"p5a"},"mark":{"type":"rule","color":"#222","strokeWidth":1},"encoding":{"y2":{"field":"y1"}}},
{"data":{"name":"p5a"},"mark":{"type":"point","filled":true,"color":"#222","opacity":1,"size":170},"encoding":{"shape":{"field":"d","type":"nominal","legend":null,"scale":{"domain":["u","d"],"range":["M0,-1L0.55,1L-0.55,1Z","M0,1L0.55,-1L-0.55,-1Z"]}}}},
{"data":{"name":"p5t"},"mark":{"type":"text","text":"T"}},
{"data":{"name":"p5t"},"mark":{"type":"text","text":"A","dx":6.7,"dy":3,"fontSize":12.5}},
{"data":{"name":"p5t"},"mark":{"type":"text","dx":17},"encoding":{"text":{"field":"t"}}},
{"data":{"name":"p5p"},"transform":[{"filter":"datum.k=='n'"}],"mark":{"type":"text"},"encoding":{"text":{"field":"t"}}},
{"data":{"name":"p5p"},"transform":[{"filter":"datum.k=='b'"}],"mark":{"type":"text","dy":3,"fontSize":12.5},"encoding":{"text":{"field":"t"}}},
{"data":{"name":"p5p"},"transform":[{"filter":"datum.k=='g'"}],"mark":{"type":"text","fontWeight":"bold","fontSize":8,"align":"right","dy":49,"color":"#555"},"encoding":{"text":{"field":"t"}}}
]},
{"width":275,"height":275,"view":{"stroke":"#333","strokeWidth":1.5},"title":{"text":["IOUT Current Error vs Supply","Voltage"]},
"encoding":{"x":{"field":"x","type":"quantitative","scale":{"domain":[35,50],"nice":false},"axis":{"title":"SUPPLY VOLTAGE (V)","titleY":33,"values":[35,40,45,50]}},"y":{"field":"y","type":"quantitative","scale":{"domain":[-3,3],"nice":false},"axis":{"title":"IOUT CURRENT ERROR (%)","titleX":-41,"values":[-3,-2,-1,0,1,2,3],"labelExpr":"datum.value<0?'–'+abs(datum.value):datum.value+''"}}},
"layer":[
{"data":{"name":"p6m"},"mark":{"type":"rect","fill":"#fff","xOffset":1,"x2Offset":-1,"yOffset":1},"encoding":{"x2":{"field":"x1"},"y2":{"field":"y1"}}},
{"data":{"name":"p6t"},"mark":{"type":"rect","fill":"#fff","xOffset":-3,"x2Offset":2,"yOffset":-10,"y2Offset":9},"encoding":{"x2":{"field":"x1"},"y2":{"field":"y"}}},
{"data":{"name":"p6l"},"mark":{"type":"line","strokeWidth":2.6,"interpolate":"monotone"},"encoding":{"color":{"field":"s","type":"nominal","legend":null,"scale":{"domain":["125","85","25","0","-40","-55"],"range":["#8e1a3d","#8e1a3d","#2f8c57","#3455a4","#3455a4","#3455a4"]}},"strokeDash":{"field":"s","type":"nominal","legend":null,"scale":{"domain":["125","85","25","0","-40","-55"],"range":[[14,3],[1,0],[1,0],[1,0],[14,3],[7,3.5]]}}}},
{"data":{"name":"p6a"},"mark":{"type":"rule","color":"#222","strokeWidth":1},"encoding":{"y2":{"field":"y1"}}},
{"data":{"name":"p6a"},"mark":{"type":"point","filled":true,"color":"#222","opacity":1,"size":170},"encoding":{"shape":{"field":"d","type":"nominal","legend":null,"scale":{"domain":["u","d"],"range":["M0,-1L0.55,1L-0.55,1Z","M0,1L0.55,-1L-0.55,-1Z"]}}}},
{"data":{"name":"p6t"},"mark":{"type":"text","text":"T"}},
{"data":{"name":"p6t"},"mark":{"type":"text","text":"A","dx":6.7,"dy":3,"fontSize":12.5}},
{"data":{"name":"p6t"},"mark":{"type":"text","dx":17},"encoding":{"text":{"field":"t"}}},
{"data":{"name":"p6p"},"transform":[{"filter":"datum.k=='n'"}],"mark":{"type":"text"},"encoding":{"text":{"field":"t"}}},
{"data":{"name":"p6p"},"transform":[{"filter":"datum.k=='b'"}],"mark":{"type":"text","dy":3,"fontSize":12.5},"encoding":{"text":{"field":"t"}}},
{"data":{"name":"p6p"},"transform":[{"filter":"datum.k=='g'"}],"mark":{"type":"text","fontWeight":"bold","fontSize":8,"align":"right","dy":49,"color":"#555"},"encoding":{"text":{"field":"t"}}}
]},
{"data":{"values":[{}]},"width":61,"height":1,"mark":{"type":"rule","opacity":0},"encoding":{}},
{"width":275,"height":275,"view":{"stroke":"#333","strokeWidth":1.5},"title":{"text":"IOUT Current Error vs +IN Current"},
"encoding":{"x":{"field":"x","type":"quantitative","scale":{"type":"log","domain":[0.001,2],"nice":false},"axis":{"title":"+IN CURRENT (mA)","titleY":33,"format":"~g","values":[0.001,0.002,0.003,0.004,0.005,0.006,0.007,0.008,0.009,0.01,0.02,0.03,0.04,0.05,0.06,0.07,0.08,0.09,0.1,0.2,0.3,0.4,0.5,0.6,0.7,0.8,0.9,1,2],"labelExpr":"indexof([0.001,0.01,0.1,1,2],datum.value)>=0?datum.label:''"}},"y":{"field":"y","type":"quantitative","scale":{"domain":[-4,3],"nice":false},"axis":{"title":"IOUT CURRENT ERROR (%)","titleX":-43,"values":[-4,-3,-2,-1,0,1,2,3],"labelExpr":"datum.value<0?'–'+abs(datum.value):datum.value+''"}}},
"layer":[
{"data":{"name":"p7m"},"mark":{"type":"rect","fill":"#fff","xOffset":1,"x2Offset":-1,"yOffset":1},"encoding":{"x2":{"field":"x1"},"y2":{"field":"y1"}}},
{"data":{"name":"p7t"},"mark":{"type":"rect","fill":"#fff","xOffset":-3,"x2Offset":2,"yOffset":-10,"y2Offset":9},"encoding":{"x2":{"field":"x1"},"y2":{"field":"y"}}},
{"data":{"name":"p7l"},"mark":{"type":"line","strokeWidth":2.6,"interpolate":"monotone"},"encoding":{"color":{"field":"s","type":"nominal","legend":null,"scale":{"domain":["125","85","25","0","-40","-55"],"range":["#8e1a3d","#8e1a3d","#2f8c57","#3455a4","#3455a4","#3455a4"]}},"strokeDash":{"field":"s","type":"nominal","legend":null,"scale":{"domain":["125","85","25","0","-40","-55"],"range":[[14,3],[1,0],[1,0],[1,0],[14,3],[7,3.5]]}}}},
{"data":{"name":"p7a"},"mark":{"type":"rule","color":"#222","strokeWidth":1},"encoding":{"y2":{"field":"y1"}}},
{"data":{"name":"p7a"},"mark":{"type":"point","filled":true,"color":"#222","opacity":1,"size":170},"encoding":{"shape":{"field":"d","type":"nominal","legend":null,"scale":{"domain":["u","d"],"range":["M0,-1L0.55,1L-0.55,1Z","M0,1L0.55,-1L-0.55,-1Z"]}}}},
{"data":{"name":"p7t"},"mark":{"type":"text","text":"T"}},
{"data":{"name":"p7t"},"mark":{"type":"text","text":"A","dx":6.7,"dy":3,"fontSize":12.5}},
{"data":{"name":"p7t"},"mark":{"type":"text","dx":17},"encoding":{"text":{"field":"t"}}},
{"data":{"name":"p7p"},"transform":[{"filter":"datum.k=='n'"}],"mark":{"type":"text"},"encoding":{"text":{"field":"t"}}},
{"data":{"name":"p7p"},"transform":[{"filter":"datum.k=='b'"}],"mark":{"type":"text","dy":3,"fontSize":12.5},"encoding":{"text":{"field":"t"}}},
{"data":{"name":"p7p"},"transform":[{"filter":"datum.k=='p'"}],"mark":{"type":"text","dy":-4,"fontSize":12.5},"encoding":{"text":{"field":"t"}}},
{"data":{"name":"p7p"},"transform":[{"filter":"datum.k=='g'"}],"mark":{"type":"text","fontWeight":"bold","fontSize":8,"align":"right","dy":49,"color":"#555"},"encoding":{"text":{"field":"t"}}}
]},
{"width":275,"height":275,"view":{"stroke":"#333","strokeWidth":1.5},"title":{"text":["IOUT Current Error vs Output","Voltage"]},
"encoding":{"x":{"field":"x","type":"quantitative","scale":{"domain":[0,5],"nice":false},"axis":{"title":"OUTPUT VOLTAGE (V)","titleY":33,"values":[0,0.5,1,1.5,2,2.5,3,3.5,4,4.5,5],"labelExpr":"datum.value==0?'0':format(datum.value,'.1f')"}},"y":{"field":"y","type":"quantitative","scale":{"domain":[-3,3],"nice":false},"axis":{"title":"IOUT CURRENT ERROR (%)","titleX":-42,"values":[-3,-2,-1,0,1,2,3],"labelExpr":"datum.value<0?'–'+abs(datum.value):datum.value+''"}}},
"layer":[
{"data":{"name":"p8m"},"mark":{"type":"rect","fill":"#fff","xOffset":1,"x2Offset":-1,"yOffset":1},"encoding":{"x2":{"field":"x1"},"y2":{"field":"y1"}}},
{"data":{"name":"p8t"},"mark":{"type":"rect","fill":"#fff","xOffset":-3,"x2Offset":2,"yOffset":-10,"y2Offset":9},"encoding":{"x2":{"field":"x1"},"y2":{"field":"y"}}},
{"data":{"name":"p8l"},"mark":{"type":"line","strokeWidth":2.6,"interpolate":"monotone"},"encoding":{"color":{"field":"s","type":"nominal","legend":null,"scale":{"domain":["125","85","25","0","-40","-55"],"range":["#8e1a3d","#8e1a3d","#2f8c57","#3455a4","#3455a4","#3455a4"]}},"strokeDash":{"field":"s","type":"nominal","legend":null,"scale":{"domain":["125","85","25","0","-40","-55"],"range":[[14,3],[1,0],[1,0],[1,0],[14,3],[7,3.5]]}}}},
{"data":{"name":"p8a"},"mark":{"type":"rule","color":"#222","strokeWidth":1},"encoding":{"y2":{"field":"y1"}}},
{"data":{"name":"p8a"},"mark":{"type":"point","filled":true,"color":"#222","opacity":1,"size":170},"encoding":{"shape":{"field":"d","type":"nominal","legend":null,"scale":{"domain":["u","d"],"range":["M0,-1L0.55,1L-0.55,1Z","M0,1L0.55,-1L-0.55,-1Z"]}}}},
{"data":{"name":"p8t"},"mark":{"type":"text","text":"T"}},
{"data":{"name":"p8t"},"mark":{"type":"text","text":"A","dx":6.7,"dy":3,"fontSize":12.5}},
{"data":{"name":"p8t"},"mark":{"type":"text","dx":17},"encoding":{"text":{"field":"t"}}},
{"data":{"name":"p8p"},"transform":[{"filter":"datum.k=='n'"}],"mark":{"type":"text"},"encoding":{"text":{"field":"t"}}},
{"data":{"name":"p8p"},"transform":[{"filter":"datum.k=='b'"}],"mark":{"type":"text","dy":3,"fontSize":12.5},"encoding":{"text":{"field":"t"}}},
{"data":{"name":"p8p"},"transform":[{"filter":"datum.k=='p'"}],"mark":{"type":"text","dy":-4,"fontSize":12.5},"encoding":{"text":{"field":"t"}}},
{"data":{"name":"p8p"},"transform":[{"filter":"datum.k=='g'"}],"mark":{"type":"text","fontWeight":"bold","fontSize":8,"align":"right","dy":49,"color":"#555"},"encoding":{"text":{"field":"t"}}}
]},
{"width":275,"height":275,"view":{"stroke":"#333","strokeWidth":1.5},"title":{"text":["IOUT Current Error vs Output","Voltage"]},
"encoding":{"x":{"field":"x","type":"quantitative","scale":{"domain":[0,40],"nice":false},"axis":{"title":"OUTPUT VOLTAGE (V)","titleY":33,"values":[0,10,20,30,40]}},"y":{"field":"y","type":"quantitative","scale":{"domain":[-3,3],"nice":false},"axis":{"title":"IOUT CURRENT ERROR (%)","titleX":-41,"values":[-3,-2,-1,0,1,2,3],"labelExpr":"datum.value<0?'–'+abs(datum.value):datum.value+''"}}},
"layer":[
{"data":{"name":"p9m"},"mark":{"type":"rect","fill":"#fff","xOffset":1,"x2Offset":-1,"yOffset":1},"encoding":{"x2":{"field":"x1"},"y2":{"field":"y1"}}},
{"data":{"name":"p9t"},"mark":{"type":"rect","fill":"#fff","xOffset":-3,"x2Offset":2,"yOffset":-10,"y2Offset":9},"encoding":{"x2":{"field":"x1"},"y2":{"field":"y"}}},
{"data":{"name":"p9l"},"mark":{"type":"line","strokeWidth":2.6,"interpolate":"monotone"},"encoding":{"color":{"field":"s","type":"nominal","legend":null,"scale":{"domain":["125","85","25","0","-40","-55"],"range":["#8e1a3d","#8e1a3d","#2f8c57","#3455a4","#3455a4","#3455a4"]}},"strokeDash":{"field":"s","type":"nominal","legend":null,"scale":{"domain":["125","85","25","0","-40","-55"],"range":[[14,3],[1,0],[1,0],[1,0],[14,3],[7,3.5]]}}}},
{"data":{"name":"p9a"},"mark":{"type":"rule","color":"#222","strokeWidth":1},"encoding":{"y2":{"field":"y1"}}},
{"data":{"name":"p9a"},"mark":{"type":"point","filled":true,"color":"#222","opacity":1,"size":170},"encoding":{"shape":{"field":"d","type":"nominal","legend":null,"scale":{"domain":["u","d"],"range":["M0,-1L0.55,1L-0.55,1Z","M0,1L0.55,-1L-0.55,-1Z"]}}}},
{"data":{"name":"p9t"},"mark":{"type":"text","text":"T"}},
{"data":{"name":"p9t"},"mark":{"type":"text","text":"A","dx":6.7,"dy":3,"fontSize":12.5}},
{"data":{"name":"p9t"},"mark":{"type":"text","dx":17},"encoding":{"text":{"field":"t"}}},
{"data":{"name":"p9p"},"transform":[{"filter":"datum.k=='n'"}],"mark":{"type":"text"},"encoding":{"text":{"field":"t"}}},
{"data":{"name":"p9p"},"transform":[{"filter":"datum.k=='b'"}],"mark":{"type":"text","dy":3,"fontSize":12.5},"encoding":{"text":{"field":"t"}}},
{"data":{"name":"p9p"},"transform":[{"filter":"datum.k=='p'"}],"mark":{"type":"text","dy":-4,"fontSize":12.5},"encoding":{"text":{"field":"t"}}},
{"data":{"name":"p9p"},"transform":[{"filter":"datum.k=='g'"}],"mark":{"type":"text","fontWeight":"bold","fontSize":8,"align":"right","dy":49,"color":"#555"},"encoding":{"text":{"field":"t"}}}
]},
{"width":61,"height":64,"encoding":{"x":{"field":"x","type":"quantitative","scale":{"domain":[0,61],"nice":false},"axis":null},"y":{"field":"y","type":"quantitative","scale":{"domain":[1650,1586],"nice":false},"axis":null}},
"layer":[
{"data":{"values":[{"x":93,"x1":1182,"y":1549,"y1":1556}]},"mark":{"type":"rect","fill":"#231f20"},"encoding":{"x2":{"field":"x1"},"y2":{"field":"y1"}}},
{"data":{"values":[{"x":1182,"y":1538,"t":"6110fa"}]},"mark":{"type":"text","align":"right","fontSize":13},"encoding":{"text":{"field":"t"}}},
{"data":{"values":[{"x":1182,"y":1587,"t":"5"}]},"mark":{"type":"text","align":"right","fontSize":68,"fontWeight":300},"encoding":{"text":{"field":"t"}}},
{"data":{"values":[{"x":639,"y":1590.6,"t":"www.datasheetall.com"}]},"mark":{"type":"text","align":"center","fontSize":23.2,"color":"#0000ff"},"encoding":{"text":{"field":"t"}}},
{"data":{"values":[{"x":130.5,"y":1594}]},"mark":{"type":"point","filled":true,"opacity":1,"color":"#8e1d3b","size":5625,"shape":"M-1,0.533C-0.62,0.371,-0.524,-0.105,-0.39,-0.505L-0.143,-0.505C-0.238,-0.105,-0.43,0.229,-0.238,0.419L0.105,0.419L0.067,0.533ZM-0.048,-0.505L1,-0.505L0.867,-0.371L0.619,-0.371C0.524,-0.01,0.43,0.276,0.333,0.533L0.03,0.533C0.2,0.276,0.29,-0.01,0.333,-0.371L-0.1,-0.371Z"}},
{"data":{"values":[{"x":172,"y":1588,"t":"LINEAR"}]},"mark":{"type":"text","fontSize":27,"fontWeight":"bold","color":"#8e1d3b"},"encoding":{"text":{"field":"t"}}},
{"data":{"values":[{"x":172,"y":1609,"t":"TECHNOLOGY"}]},"mark":{"type":"text","fontSize":14,"fontWeight":300,"color":"#8e1d3b"},"encoding":{"text":{"field":"t"}}}
]},
{"data":{"values":[{}]},"width":1,"height":1,"mark":{"type":"rule","opacity":0},"encoding":{}},
{"data":{"values":[{}]},"width":1,"height":1,"mark":{"type":"rule","opacity":0},"encoding":{}},
{"data":{"values":[{}]},"width":1,"height":1,"mark":{"type":"rule","opacity":0},"encoding":{}}
]}
